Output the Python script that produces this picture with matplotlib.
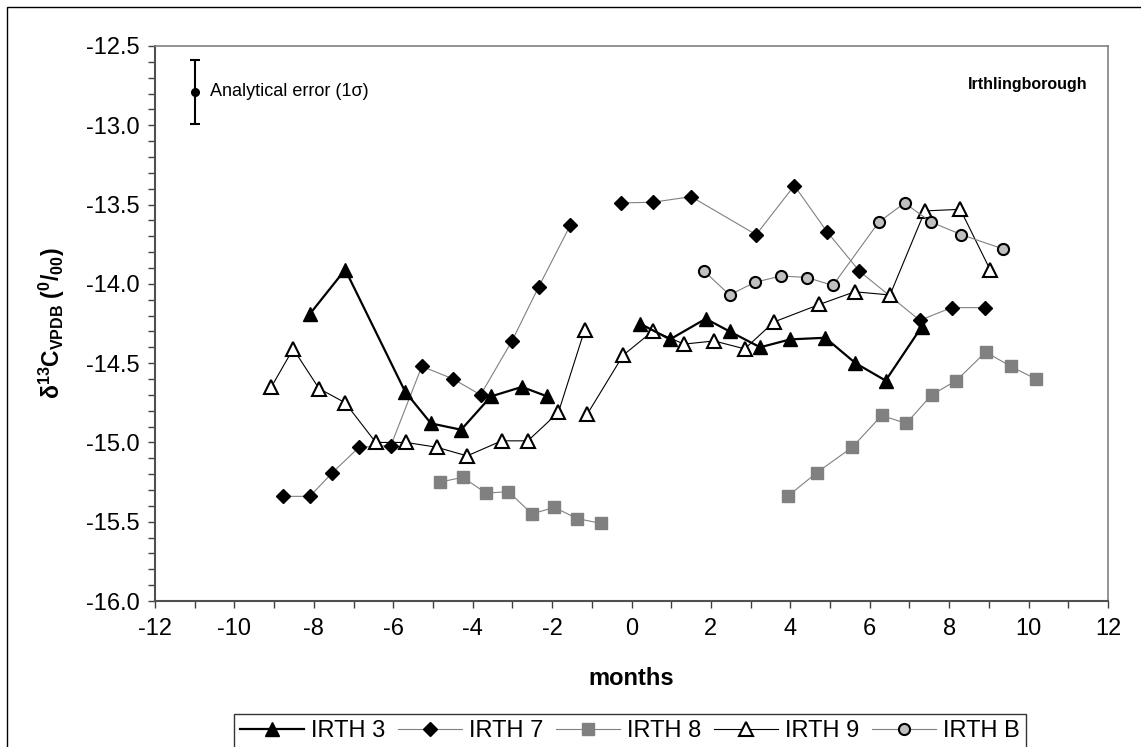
import numpy as np
import matplotlib
matplotlib.use("Agg")
import matplotlib.pyplot as plt
from matplotlib.ticker import MultipleLocator
from matplotlib.patches import Rectangle

plt.rcParams['font.family'] = ['Liberation Sans', 'DejaVu Sans']
plt.rcParams['axes.unicode_minus'] = False
plt.rcParams['mathtext.fontset'] = 'custom'
plt.rcParams['mathtext.rm'] = 'Liberation Sans'
plt.rcParams['mathtext.bf'] = 'Liberation Sans:bold'
plt.rcParams['mathtext.it'] = 'Liberation Sans:italic'

nan = np.nan

# IRTH 3 (gap between the two runs marked with nan)
irth3_x = [-8.10, -7.21, -5.70, -5.05, -4.29, -3.54, -2.76, -2.12, nan,
           0.21, 0.97, 1.87, 2.47, 3.24, 4.00, 4.88, 5.64, 6.40, 7.31]
irth3_y = [-14.19, -13.91, -14.68, -14.88, -14.92, -14.71, -14.65, -14.71, nan,
           -14.25, -14.35, -14.22, -14.30, -14.40, -14.35, -14.34, -14.50, -14.61, -14.27]

# IRTH 7
irth7_x = [-8.77, -8.10, -7.53, -6.86, -6.06, -5.28, -4.49, -3.80, -3.01, -2.34, -1.54, nan,
           -0.27, 0.55, 1.50, 3.14, 4.10, 4.92, 5.74, 7.26, 8.06, 8.90]
irth7_y = [-15.34, -15.34, -15.19, -15.03, -15.02, -14.52, -14.60, -14.70, -14.36, -14.02, -13.63, nan,
           -13.49, -13.485, -13.45, -13.69, -13.38, -13.67, -13.92, -14.23, -14.15, -14.15]

# IRTH 8
irth8_x = [-4.82, -4.25, -3.66, -3.10, -2.51, -1.94, -1.37, -0.78, nan,
           3.93, 4.67, 5.56, 6.30, 6.92, 7.56, 8.18, 8.92, 9.55, 10.18]
irth8_y = [-15.25, -15.22, -15.32, -15.31, -15.45, -15.41, -15.48, -15.51, nan,
           -15.34, -15.19, -15.03, -14.83, -14.88, -14.70, -14.61, -14.43, -14.52, -14.60]

# IRTH 9
irth9_x = [-9.07, -8.52, -7.87, -7.21, -6.44, -5.68, -4.91, -4.14, -3.27, -2.61, -1.84, -1.18, nan,
           -1.11, -0.21, 0.55, 1.32, 2.08, 2.85, 3.59, 4.73, 5.62, 6.51, 7.39, 8.28, 9.03]
irth9_y = [-14.65, -14.41, -14.66, -14.75, -15.00, -15.00, -15.03, -15.085, -14.99, -14.99, -14.81, -14.29, nan,
           -14.82, -14.45, -14.295, -14.38, -14.36, -14.41, -14.24, -14.13, -14.05, -14.07, -13.54, -13.53, -13.91]

# IRTH B
irthb_x = [1.83, 2.47, 3.11, 3.77, 4.42, 5.07, 6.23, 6.88, 7.54, 8.31, 9.36]
irthb_y = [-13.92, -14.07, -13.99, -13.95, -13.96, -14.01, -13.61, -13.49, -13.61, -13.69, -13.78]

# analytical error bar
err_x = -11.0
err_y = -12.79
err_size = 0.2

fig = plt.figure(figsize=(11.41, 7.47), dpi=100)
ax = fig.add_axes([155 / 1141, 1 - 601 / 747, (1108 - 155) / 1141, (601 - 46) / 747])

ax.plot(irth3_x, irth3_y, color='black', lw=1.6, marker='^', ms=10,
        mfc='black', mec='black', label='IRTH 3', zorder=5)
ax.plot(irth7_x, irth7_y, color='#808080', lw=0.8, marker='D', ms=7,
        mfc='black', mec='black', label='IRTH 7', zorder=3)
ax.plot(irth8_x, irth8_y, color='#808080', lw=0.8, marker='s', ms=8.5,
        mfc='#808080', mec='#808080', label='IRTH 8', zorder=3)
ax.plot(irth9_x, irth9_y, color='black', lw=0.8, marker='^', ms=10,
        mfc='white', mec='black', mew=1.5, label='IRTH 9', zorder=4)
ax.plot(irthb_x, irthb_y, color='#808080', lw=0.8, marker='o', ms=8,
        mfc='#c0c0c0', mec='black', mew=1.5, label='IRTH B', zorder=4)

ax.errorbar([err_x], [err_y], yerr=[err_size], fmt='o', color='black', ms=5.5,
            capsize=3.6, elinewidth=1.5, capthick=1.5)
ax.text(-10.62, err_y, 'Analytical error (1σ)', fontsize=13, va='center', ha='left')
ax.text(0.979, 0.93, 'Irthlingborough', transform=ax.transAxes, fontsize=11.5,
        fontweight='bold', ha='right', va='center')

ax.set_xlim(-12, 12)
ax.set_ylim(-16.0, -12.5)
ax.xaxis.set_major_locator(MultipleLocator(2))
ax.xaxis.set_minor_locator(MultipleLocator(1))
ax.yaxis.set_major_locator(MultipleLocator(0.5))
ax.yaxis.set_minor_locator(MultipleLocator(0.1))
ax.yaxis.set_major_formatter(plt.FuncFormatter(lambda v, p: f"{v:.1f}"))
ax.tick_params(which='both', direction='out', length=5, width=1, labelsize=17, color='#404040')
ax.tick_params(axis='x', pad=7)
ax.tick_params(axis='y', pad=6)

for s in ['top', 'right']:
    ax.spines[s].set_color('#808080')
    ax.spines[s].set_linewidth(1.2)
for s in ['left', 'bottom']:
    ax.spines[s].set_color('#505050')
    ax.spines[s].set_linewidth(1.5)

ax.set_xlabel('months', fontsize=17, fontweight='bold', labelpad=20)
ax.set_ylabel(r'$\mathbf{\delta^{13}C_{VPDB}\ (^{0}/_{00})}$', fontsize=16.5, labelpad=14)

leg = fig.legend(loc='upper center', bbox_to_anchor=(630 / 1141, 1 - 714 / 747), ncol=5,
                 fontsize=17, frameon=True, fancybox=False, edgecolor='black',
                 handlelength=2.7, handletextpad=0.3, columnspacing=0.55,
                 borderpad=0.25, borderaxespad=0)
leg.get_frame().set_linewidth(1.0)

# outer chart border
fig.patches.append(Rectangle((7 / 1141, -0.05), 1.2, 1 - 7 / 747 + 0.05,
                             transform=fig.transFigure, fill=False,
                             edgecolor='black', lw=1.0))

fig.savefig('out.png', dpi=100)
